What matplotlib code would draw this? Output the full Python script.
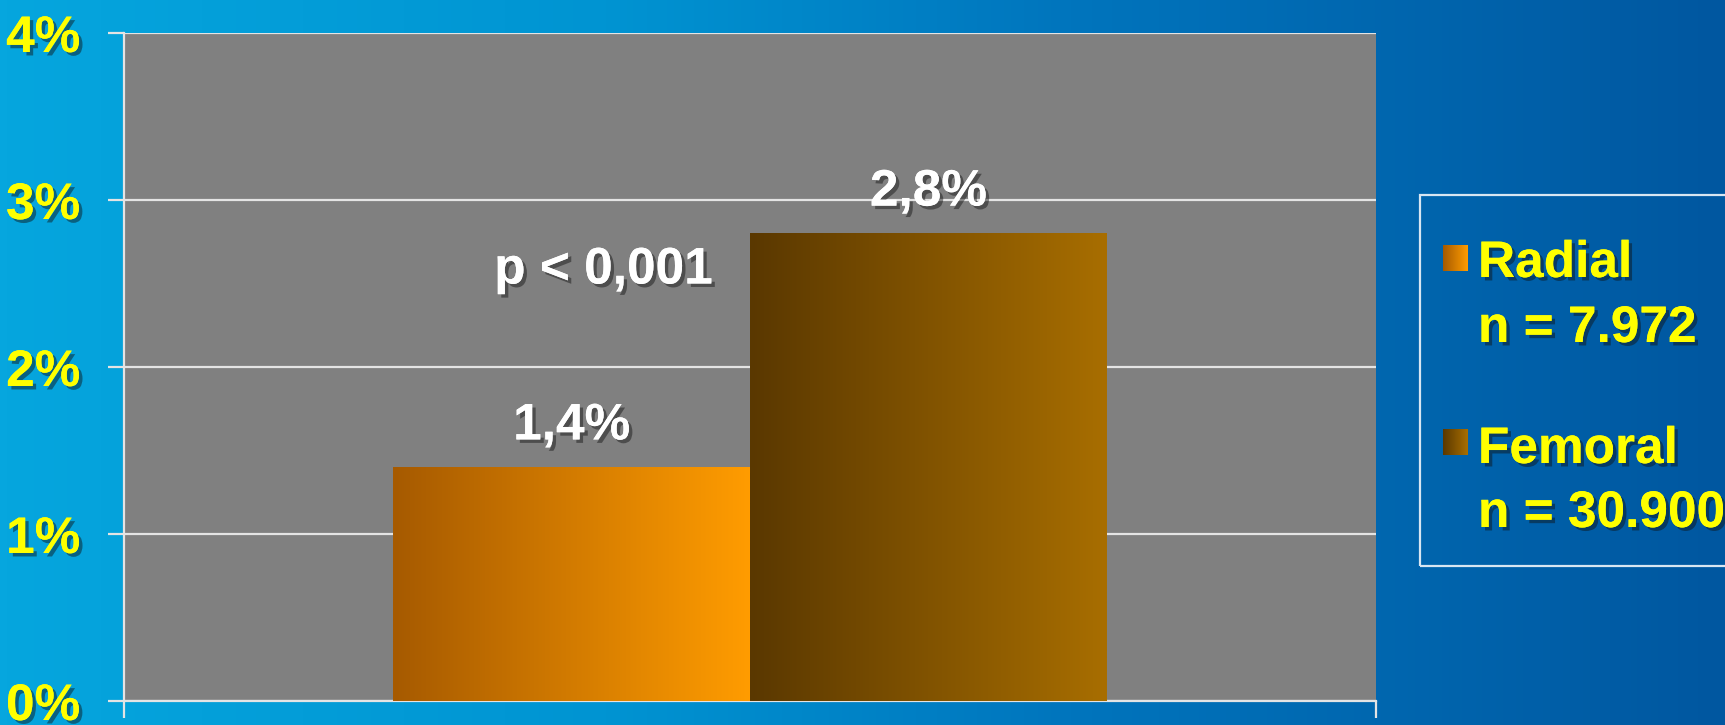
import numpy as np
import matplotlib
matplotlib.use("Agg")
import matplotlib.pyplot as plt
import matplotlib.patheffects as pe
from matplotlib.colors import LinearSegmentedColormap
from matplotlib.patches import Rectangle

# data
groups = ["Radial", "Femoral"]
group_n = ["n = 7.972", "n = 30.900"]
rates = [0.014, 0.028]
rate_labels = ["1,4%", "2,8%"]
yticks = [0.0, 0.01, 0.02, 0.03, 0.04]
ytick_labels = ["0%", "1%", "2%", "3%", "4%"]
p_text = "p < 0,001"

bar_grad = [("#a65a00", "#ff9c00"), ("#5a3800", "#a86e00")]

FONT = ["Liberation Sans", "DejaVu Sans"]
FS = 37
shadow = [pe.withSimplePatchShadow(offset=(2.5, -2.5), shadow_rgbFace="#101010", alpha=0.45), pe.Normal()]

fig = plt.figure(figsize=(17.25, 7.25), dpi=100)

# blue slide background
bg = fig.add_axes([0, 0, 1, 1], zorder=-10)
bg_cmap = LinearSegmentedColormap.from_list(
    "bg", [(0, "#06a6de"), (0.35, "#0094d2"), (0.62, "#0075bd"), (1, "#0057a0")])
bg.imshow(np.linspace(0, 1, 512)[None, :], aspect="auto", cmap=bg_cmap, extent=[0, 1, 0, 1])
bg.set_axis_off()

ax = fig.add_axes([124 / 1725, 24 / 725, 1252 / 1725, 668 / 725])
ax.set_facecolor("#808080")

w = 0.285
xs = [-w / 2, w / 2]
bars = ax.bar(xs, rates, width=w, color="none", zorder=3)
for rect, (c0, c1) in zip(bars, bar_grad):
    cmap = LinearSegmentedColormap.from_list("g", [c0, c1])
    x0, y0 = rect.get_x(), rect.get_y()
    im = ax.imshow(np.linspace(0, 1, 256)[None, :], aspect="auto", cmap=cmap,
                   extent=[x0, x0 + rect.get_width(), y0, y0 + rect.get_height()], zorder=3)
    im.set_clip_path(rect)
ax.set_xlim(-0.5, 0.5)
ax.set_ylim(0, 0.04)

for x, v, lab in zip(xs, rates, rate_labels):
    ax.annotate(lab, (x, v), xytext=(0, 20), textcoords="offset points", ha="center", va="baseline",
                color="white", fontsize=FS, fontweight="bold", family=FONT, path_effects=shadow, zorder=5)

ax.text(-0.117, 0.025, p_text, ha="center", va="baseline", color="white", fontsize=FS,
        fontweight="bold", family=FONT, path_effects=shadow, zorder=5)

grid_c = "#e4e4e4"
ax.set_yticks(yticks)
ax.set_yticklabels(ytick_labels)
ax.yaxis.grid(True, color=grid_c, linewidth=1.6, zorder=1)
ax.set_axisbelow(True)
ax.tick_params(axis="y", length=11.5, width=1.6, color=grid_c, pad=20, labelcolor="#ffff00")
for t in ax.get_yticklabels():
    t.set_fontsize(FS)
    t.set_fontweight("bold")
    t.set_family(FONT)
    t.set_path_effects(shadow)
ax.set_xticks([-0.5, 0.5])
ax.set_xticklabels(["", ""])
ax.tick_params(axis="x", length=12, width=1.6, color=grid_c)
for s in ["top", "right"]:
    ax.spines[s].set_visible(False)
for s in ["left", "bottom"]:
    ax.spines[s].set_color(grid_c)
    ax.spines[s].set_linewidth(1.6)

# legend box drawn in pixel coordinates
W, H = 1725, 725
def fx(px):
    return px / W
def fy(py):
    return 1 - py / H

fig.patches.append(Rectangle((fx(1420), fy(566)), fx(1740) - fx(1420), fy(195) - fy(566),
                             transform=fig.transFigure, facecolor="none", edgecolor="#d8e6f2",
                             linewidth=1.6, zorder=2))

sq_top = [245, 429]
name_base = [277, 463]
n_base = [342, 527]
for i in range(2):
    c0, c1 = bar_grad[i]
    cmap = LinearSegmentedColormap.from_list("g", [c0, c1])
    sq = fig.add_axes([fx(1443), fy(sq_top[i] + 26), 25 / W, 26 / H])
    sq.imshow(np.linspace(0, 1, 64)[None, :], aspect="auto", cmap=cmap)
    sq.set_axis_off()
    fig.text(fx(1478), fy(name_base[i]), groups[i], ha="left", va="baseline", color="#ffff00",
             fontsize=FS, fontweight="bold", family=FONT, path_effects=shadow)
    fig.text(fx(1478), fy(n_base[i]), group_n[i], ha="left", va="baseline", color="#ffff00",
             fontsize=FS, fontweight="bold", family=FONT, path_effects=shadow)

fig.savefig("out.png", dpi=100)
